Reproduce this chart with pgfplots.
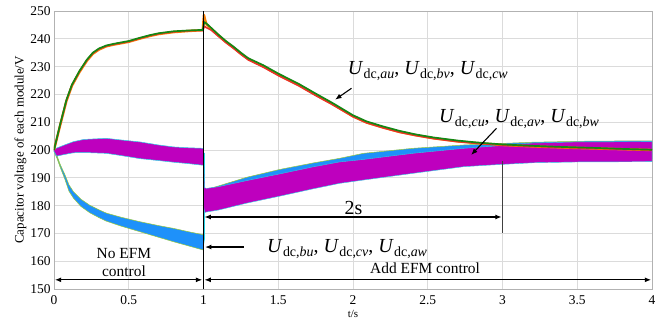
\documentclass[border=0pt]{standalone}
\usepackage{fontspec}
\setmainfont{Liberation Serif}
\usepackage{pgfplots}
\pgfplotsset{compat=1.18}
\usetikzlibrary{arrows.meta}

\definecolor{cgreen}{RGB}{20,135,20}
\definecolor{corange}{RGB}{250,130,10}
\definecolor{cred}{RGB}{235,50,40}
\definecolor{cblue}{RGB}{30,145,250}
\definecolor{cmag}{RGB}{190,0,190}
\definecolor{cedge}{RGB}{150,200,60}
\definecolor{ccyan}{RGB}{40,210,230}

% capacitor voltage symbol U_{dc,xy}
\newcommand{\Ud}[1]{\textit{U}\kern0.3bp\raisebox{-3.4bp}{\fontsize{14}{14}\selectfont dc,\textit{#1}}}

\tikzset{
  dblarr/.style={line width=1.2bp, {Latex[length=6.5bp,width=5bp]}-{Latex[length=6.5bp,width=5bp]}},
  onearr/.style={line width=1.1bp, -{Latex[length=6.5bp,width=5bp]}},
  lbl/.style={font=\fontsize{15.5}{16}\selectfont, inner sep=0pt},
  mlbl/.style={font=\fontsize{20}{20}\selectfont, inner sep=0pt},
}

\begin{document}
\begin{tikzpicture}
\useasboundingbox (-54bp,-39bp) rectangle (612bp,289bp);
\begin{axis}[
  scale only axis, width=598bp, height=278bp,
  xmin=0, xmax=4, ymin=150, ymax=250,
  xtick={0,0.5,1,1.5,2,2.5,3,3.5,4},
  xticklabels={0,0.5,1,1.5,2,2.5,3,3.5,4},
  ytick={150,160,170,180,190,200,210,220,230,240,250},
  grid=major,
  major grid style={draw=gray!28, line width=0.6bp},
  axis line style={draw=gray!60, line width=0.7bp},
  major tick length=0pt,
  tick style={draw=none},
  ticklabel style={font=\fontsize{13.5}{14}\selectfont},
  /pgf/number format/assume math mode=true,
  xticklabel style={yshift=-3bp},
  xlabel={t/s},
  xlabel style={font=\fontsize{11}{12}\selectfont, at={(axis description cs:0.5,-0.088)}, anchor=center},
  ylabel={Capacitor voltage of each module/V},
  ylabel style={font=\fontsize{13}{14}\selectfont, at={(axis description cs:-0.056,0.5)}, anchor=center},
]

% --- ripple bands before the EFM control is switched on
\addplot[draw=cedge, line width=0.5bp, fill=cblue] coordinates {
 (0,200) (0.02,198) (0.04,195) (0.074,191) (0.1,187.5) (0.13,185) (0.18,182.3)
 (0.24,180.1) (0.3,178.5) (0.35,177.3) (0.45,175.8) (0.575,174.2) (0.7,172.8)
 (0.8,171.8) (0.9,170.6) (1.0,169.5)
 (1.0,164) (0.9,165.5) (0.8,167) (0.7,168.6) (0.575,170.6) (0.45,172.6)
 (0.35,174.4) (0.3,175.7) (0.24,177.4) (0.18,179.7) (0.13,182.7) (0.1,185.2)
 (0.074,189.3) (0.04,194) (0.02,197) (0,199.5)
} -- cycle;
\addplot[draw=ccyan, line width=0.5bp, fill=cmag] coordinates {
 (0,200.2) (0.018,200.7) (0.07,201.8) (0.13,203) (0.2,203.8) (0.35,204.2)
 (0.45,203.6) (0.575,202.9) (0.7,201.8) (0.8,201.1) (0.9,200.8) (1.0,200.6)
 (1.0,194.5) (0.9,195.1) (0.8,195.6) (0.7,196.2) (0.575,196.9) (0.45,198)
 (0.35,198.8) (0.2,199.1) (0.13,199) (0.07,198.4) (0.018,197.8) (0,199.5)
} -- cycle;

% --- transient at t = 1 s
\addplot[draw=none, fill=ccyan] coordinates {
 (0.997,199) (1.009,199) (1.009,168) (0.997,164)
} -- cycle;

% --- ripple bands after the EFM control is switched on
\addplot[draw=cedge, line width=0.5bp, fill=cblue] coordinates {
 (1.003,186) (1.02,185.8) (1.09,186.9) (1.29,190.2) (1.51,193) (1.73,195.3)
 (1.91,197) (2.07,198.8) (2.4,200.6) (2.74,201.8) (2.92,202.2) (3.2,202.8)
 (3.6,203.2) (4,203.3)
 (4,196.8) (3.5,196.7) (3.2,196.4) (2.92,195.6) (2.74,195) (2.4,192.6)
 (2.07,190.2) (1.91,189) (1.73,187) (1.51,184.4) (1.29,181.9) (1.1,179.4)
 (1.02,178.7) (1.003,178.5)
} -- cycle;
\addplot[draw=ccyan, line width=0.4bp, fill=cmag] coordinates {
 (1.0,199.5) (1.008,186.4) (1.02,186.2) (1.1,186.8) (1.29,189) (1.51,191.4)
 (1.73,193.9) (1.91,195.7) (2.07,196.6) (2.4,198.8) (2.74,200.6) (2.92,201.3)
 (3.2,202.5) (3.5,202.9) (4,203)
 (4,195.8) (3.5,195.7) (3.2,195.4) (2.92,194.6) (2.74,194) (2.4,191.6)
 (2.07,189.2) (1.91,188) (1.73,186) (1.51,183.4) (1.29,180.9) (1.1,178.4)
 (1.02,177.7) (1.008,177.5) (1.0,180)
} -- cycle;

% --- module voltages U_dc,au / U_dc,bv / U_dc,cw
\addplot[corange, line width=2.4bp, line join=round] coordinates {
 (0,200) (0.04,208.6) (0.083,217.6) (0.12,223.1) (0.17,228) (0.22,232.1)
 (0.26,234.6) (0.3,236.1) (0.35,237.3) (0.4,237.9) (0.5,238.9) (0.57,240)
 (0.64,241) (0.7,241.7) (0.8,242.4) (0.9,242.8) (0.995,243.1)
 (1.003,248.6) (1.01,247) (1.02,245.2) (1.05,243.7) (1.1,241.2) (1.15,238.9)
 (1.2,236.9) (1.25,234.7) (1.3,232.7) (1.4,230.1) (1.5,227.1) (1.64,223.3)
 (1.75,219.9) (1.86,216.6) (2.0,212.1) (2.09,209.9) (2.2,208.1) (2.31,206.5)
 (2.42,205.3) (2.54,204.2) (2.7,203.1) (2.83,202.5) (3.0,201.8) (3.2,201.3)
 (3.4,200.9) (3.65,200.5) (3.8,200.3) (4.0,200)
};
\addplot[cred, line width=1.6bp, line join=round] coordinates {
 (0,200) (0.04,208.8) (0.083,217.8) (0.12,223.3) (0.17,228.2) (0.22,232.3)
 (0.26,234.8) (0.3,236.3) (0.35,237.4) (0.4,238) (0.5,239) (0.57,240.1)
 (0.64,241.1) (0.7,241.8) (0.8,242.5) (0.9,242.9) (0.995,243)
 (1.006,244.5) (1.02,244) (1.05,243.2) (1.1,240.9) (1.15,238.6)
 (1.2,236.6) (1.25,234.4) (1.3,232.4) (1.4,229.8) (1.5,226.8) (1.64,223)
 (1.75,219.6) (1.86,216.4) (2.0,212) (2.09,209.8) (2.2,208) (2.31,206.4)
 (2.42,205.2) (2.54,204.1) (2.7,203) (2.83,202.4) (3.0,201.8) (3.2,201.3)
 (3.4,200.9) (3.65,200.5) (3.8,200.3) (4.0,200)
};
\addplot[cgreen, line width=1.7bp, line join=round] coordinates {
 (0,200) (0.04,209) (0.083,218) (0.12,223.5) (0.17,228.4) (0.22,232.5)
 (0.26,235) (0.3,236.5) (0.35,237.6) (0.4,238.2) (0.5,239.2) (0.57,240.3)
 (0.64,241.3) (0.7,242) (0.8,242.7) (0.9,243) (0.995,243.2)
 (1.005,246) (1.02,245.5) (1.05,244) (1.1,241.5) (1.15,239.2)
 (1.2,237.2) (1.25,235) (1.3,233) (1.4,230.5) (1.5,227.5) (1.64,223.7)
 (1.75,220.3) (1.86,217) (2.0,212.5) (2.09,210.3) (2.2,208.5) (2.31,206.9)
 (2.42,205.6) (2.54,204.5) (2.7,203.4) (2.83,202.7) (3.0,202) (3.2,201.5)
 (3.4,201.1) (3.65,200.7) (3.8,200.4) (4.0,200.1)
};

% --- switching instant and settling time
\draw[black, line width=1.3bp] (axis cs:1,150) -- (axis cs:1,250);
\draw[black!75, line width=1.3bp] (axis cs:3,196) -- (axis cs:3,170);
\draw[dblarr] (axis cs:1.006,175.9) -- (axis cs:2.995,175.9);
\node[mlbl, anchor=base] at (axis cs:2.003,176.9) {2s};

% --- control stages
\draw[dblarr] (axis cs:0.005,153.3) -- (axis cs:0.992,153.3);
\draw[dblarr] (axis cs:1.006,153.3) -- (axis cs:3.995,153.3);
\node[lbl, anchor=base] at (axis cs:0.468,161.0) {No EFM};
\node[lbl, anchor=base] at (axis cs:0.468,154.4) {control};
\node[lbl, anchor=base] at (axis cs:2.482,155.5) {Add EFM control};

% --- curve labels
\node[mlbl, anchor=base west] at (axis cs:1.965,227) {\Ud{au}, \Ud{bv}, \Ud{cw}};
\draw[onearr] (axis cs:1.99,222.2) -- (axis cs:1.88,218.1);
\node[mlbl, anchor=base west] at (axis cs:2.575,209.8) {\Ud{cu}, \Ud{av}, \Ud{bw}};
\draw[onearr] (axis cs:2.96,207.8) -- (axis cs:2.79,198.2);
\node[mlbl, anchor=base west] at (axis cs:1.425,163.05) {\Ud{bu}, \Ud{cv}, \Ud{aw}};
\draw[onearr] (axis cs:1.27,165.1) -- (axis cs:1.01,165.1);
\end{axis}
\end{tikzpicture}
\end{document}
